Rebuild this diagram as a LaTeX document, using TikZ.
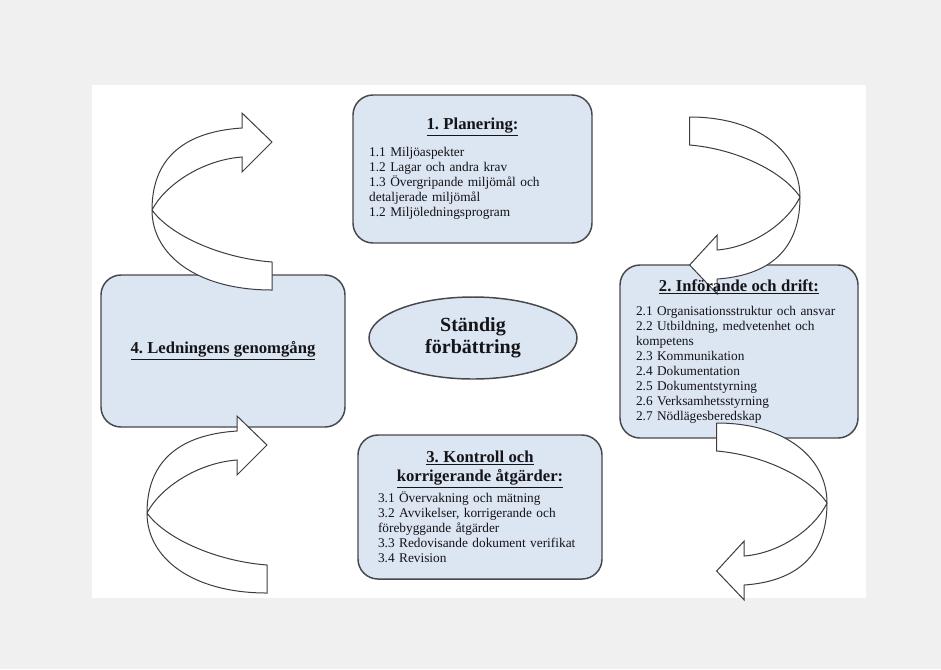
\documentclass[tikz,border=0pt]{standalone}
\usepackage{fontspec}
\setmainfont{Liberation Serif}
\usepackage{tikz}
\usetikzlibrary{shapes.geometric}
\frenchspacing
\definecolor{boxblue}{RGB}{220,229,242}
\definecolor{edgegrey}{RGB}{72,72,76}
\definecolor{pagegrey}{RGB}{240,240,240}
\definecolor{inkgrey}{RGB}{20,20,25}
\newcommand{\boxtitle}[1]{{\centering\fontsize{12.5}{14.5}\selectfont\bfseries #1\par}}
\tikzset{
  panel/.style ={draw=edgegrey,line width=1.1pt,fill=boxblue,rounded corners=15pt},
  hub/.style   ={ellipse,draw=edgegrey,line width=1.1pt,fill=boxblue,inner sep=0pt,align=center,
                 text=inkgrey,font=\fontsize{15}{16.5}\selectfont\bfseries},
  body/.style  ={align=left,inner sep=0pt,text=inkgrey,font=\fontsize{10}{11.25}\selectfont},
  uarrow/.style={draw=edgegrey!85!black,line width=0.75pt,fill=white},
  uturn/.pic={
    \path[uarrow] (120,80) .. controls (45,80) and (0,45) .. (0,0)
      .. controls (0,-60) and (43,-79) .. (90,-82) -- (90,-97) -- (120,-68) -- (90,-38) -- (90,-53)
      .. controls (50,-50) and (13,-25) .. (0,0)
      .. controls (18,25) and (68,48) .. (120,52) -- cycle;
  },
}

\begin{document}
\begin{tikzpicture}[x=0.75pt,y=-0.75pt]
\fill[pagegrey] (0,0) rectangle (941,669);
\fill[white] (92,85) rectangle (866,598);

% the four stages
\node[panel,minimum width=179.25pt,minimum height=111pt] (plan) at (472.5,169) {};
\node[panel,minimum width=178.5pt,minimum height=129.75pt] (drift) at (739,351.5) {};
\node[panel,minimum width=183pt,minimum height=108pt] (kontroll) at (480,507) {};
\node[panel,minimum width=183pt,minimum height=114pt] (ledning) at (223,351) {};
\node[hub,minimum width=156pt,minimum height=61.5pt] (goal) at (473,338) {Ständig\\förbättring};

% turning arrows
\pic at (152,210) {uturn};
\pic at (147,513) {uturn};
\pic[rotate=180,xscale=0.92] at (800,197) {uturn};
\pic[rotate=180,xscale=0.92] at (827,503) {uturn};

% box texts
\node[body,text width=155pt] (plan-txt) at (plan) {\boxtitle{\underline{1. Planering:}}\vspace{7.5pt}%
  1.1 Miljöaspekter\\ 1.2 Lagar och andra krav\\ 1.3 Övergripande miljömål och\\ detaljerade miljömål\\ 1.2 Miljöledningsprogram};
\node[body,text width=154.5pt] (drift-txt) at (drift) {\boxtitle{\underline{2. Införande och drift:}}\vspace{6.5pt}%
  2.1 Organisationsstruktur och ansvar\\ 2.2 Utbildning, medvetenhet och\\ kompetens\\ 2.3 Kommunikation\\
  2.4 Dokumentation\\ 2.5 Dokumentstyrning\\ 2.6 Verksamhetsstyrning\\ 2.7 Nödlägesberedskap};
\node[body,text width=153pt] (kontroll-txt) at (kontroll) {\boxtitle{\underline{3. Kontroll och}\\ \underline{korrigerande åtgärder:}}\vspace{2pt}%
  3.1 Övervakning och mätning\\ 3.2 Avvikelser, korrigerande och\\ förebyggande åtgärder\\ 3.3 Redovisande dokument verifikat\\ 3.4 Revision};
\node[body,align=center,font=\fontsize{12.5}{14.5}\selectfont\bfseries] (ledning-txt) at (ledning) {\underline{4. Ledningens genomgång}};
\end{tikzpicture}
\end{document}
